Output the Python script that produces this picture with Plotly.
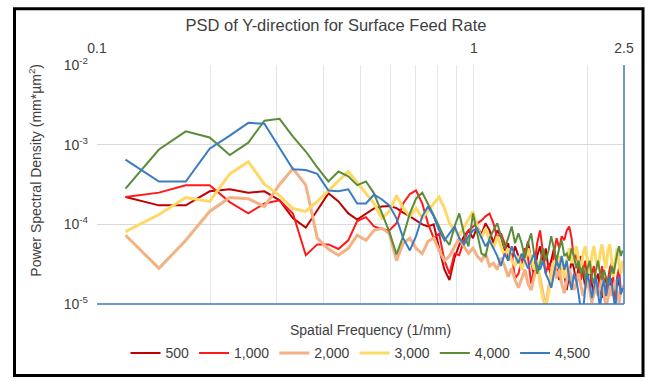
import plotly.graph_objects as go

# Spatial frequency (1/mm)
freq = [0.119, 0.146, 0.172, 0.199, 0.225, 0.252, 0.278, 0.305, 0.331, 0.358,
        0.384, 0.411, 0.437, 0.464, 0.490, 0.517, 0.543, 0.570, 0.596, 0.623,
        0.649, 0.676, 0.702, 0.729, 0.755, 0.782, 0.808, 0.835, 0.861, 0.888,
        0.914, 0.941, 0.967, 0.994, 1.020, 1.047, 1.073, 1.100, 1.126, 1.153,
        1.179, 1.206, 1.232, 1.259, 1.285, 1.312, 1.338, 1.365, 1.391, 1.418,
        1.444, 1.471, 1.497, 1.524, 1.550, 1.577, 1.603, 1.630, 1.656, 1.683,
        1.709, 1.736, 1.762, 1.789, 1.815, 1.842, 1.868, 1.895, 1.921, 1.948,
        1.974, 2.001, 2.027, 2.054, 2.080, 2.107, 2.133, 2.160, 2.186, 2.213,
        2.239, 2.266, 2.292, 2.319, 2.345, 2.372, 2.398, 2.425, 2.451, 2.478]

psd_500 = [2.2e-4, 1.73e-4, 1.73e-4, 2.6e-4, 2.75e-4, 2.5e-4, 2.6e-4, 2.0e-4, 1.19e-4, 9.1e-5,
           1.5e-4, 2.45e-4, 1.94e-4, 1.37e-4, 1.15e-4, 1.37e-4, 1.58e-4, 1.67e-4, 1.7e-4,
           1.6e-4, 1.4e-4, 1.26e-4, 1.12e-4, 1.0e-4, 9.4e-5, 1.0e-4, 5.0e-5, 2.7e-5, 2.0e-5,
           3.8e-5, 5.5e-5, 7.1e-5, 8.4e-5, 6.7e-5, 9.4e-5, 7.5e-5, 1.03e-4, 8.4e-5, 5.8e-5,
           8.4e-5, 7.1e-5, 4.7e-5, 5.8e-5, 3.5e-5, 5.3e-5, 4.0e-5, 2.8e-5, 4.3e-5, 6.1e-5,
           3.5e-5, 2.2e-5, 4.0e-5, 5.3e-5, 3.25e-5, 5.0e-5, 2.7e-5, 3.5e-5, 5.0e-5, 3.0e-5,
           2.0e-5, 3.25e-5, 2.4e-5, 1.5e-5, 2.2e-5, 3.5e-5, 2.8e-5, 1.8e-5, 3.0e-5, 4.0e-5,
           2.4e-5, 1.6e-5, 2.2e-5, 2.8e-5, 1.8e-5, 1.26e-5, 2.0e-5, 2.4e-5, 1.6e-5, 1.19e-5,
           1.8e-5, 2.2e-5, 1.37e-5, 1.6e-5, 2.1e-5, 1.5e-5, 1.12e-5, 1.7e-5, 2.0e-5, 1.33e-5,
           1.6e-5]

psd_1000 = [2.2e-4, 2.5e-4, 3.1e-4, 3.1e-4, 1.9e-4, 1.37e-4, 1.83e-4, 2.0e-4, 1.37e-4, 4.1e-5,
            5.6e-5, 5.6e-5, 4.9e-5, 6.3e-5, 1.1e-4, 1.23e-4, 9.4e-5, 8.7e-5, 8.4e-5,
            1.03e-4, 1.83e-4, 2.4e-4, 2.66e-4, 1.83e-4, 1.03e-4, 6.7e-5, 7.7e-5, 3.5e-5, 2.4e-5,
            4.3e-5, 4.1e-5, 6.3e-5, 8.4e-5, 9.4e-5, 1.03e-4, 1.12e-4, 1.26e-4, 1.37e-4, 1.03e-4,
            6.7e-5, 7.7e-5, 5.8e-5, 3.5e-5, 4.3e-5, 2.1e-5, 2.4e-5, 3.5e-5, 5.0e-5, 3.8e-5,
            1.8e-5, 2.8e-5, 5.8e-5, 8.4e-5, 4.3e-5, 2.4e-5, 3.25e-5, 2.1e-5, 4.3e-5, 6.7e-5,
            5.0e-5, 7.1e-5, 6.3e-5, 8.4e-5, 9.4e-5, 6.7e-5, 3.5e-5, 4.3e-5, 2.8e-5, 2.0e-5,
            2.7e-5, 3.5e-5, 1.8e-5, 1.5e-5, 2.4e-5, 3.0e-5, 1.6e-5, 1.33e-5, 2.1e-5, 3.0e-5,
            1.8e-5, 1.26e-5, 2.0e-5, 2.8e-5, 3.25e-5, 1.8e-5, 1.19e-5, 2.2e-5, 2.8e-5, 1.5e-5,
            1.7e-5]

psd_2000 = [7.3e-5, 2.8e-5, 6.3e-5, 1.45e-4, 2.17e-4, 2.1e-4, 1.67e-4, 3.16e-4, 5.0e-4, 3.1e-4,
            6.7e-5, 4.9e-5, 4.1e-5, 5.0e-5, 7.3e-5, 6.3e-5, 8.4e-5, 8.9e-5, 7.7e-5,
            3.5e-5, 5.8e-5, 6.7e-5, 5.0e-5, 4.3e-5, 6.1e-5, 6.7e-5, 4.7e-5, 3.5e-5, 4.0e-5,
            5.3e-5, 6.7e-5, 5.3e-5, 4.3e-5, 5.0e-5, 4.0e-5, 3.5e-5, 4.3e-5, 3.0e-5, 3.25e-5,
            2.7e-5, 3.8e-5, 3.0e-5, 2.2e-5, 2.8e-5, 2.0e-5, 1.6e-5, 2.1e-5, 2.7e-5, 1.8e-5,
            1.5e-5, 2.2e-5, 3.0e-5, 2.1e-5, 1.37e-5, 8.9e-6, 1.6e-5, 2.4e-5, 3.0e-5, 2.1e-5,
            2.7e-5, 1.8e-5, 1.37e-5, 2.0e-5, 2.8e-5, 2.1e-5, 1.5e-5, 1.8e-5, 2.4e-5, 1.7e-5,
            1.26e-5, 1.6e-5, 2.1e-5, 1.5e-5, 1.03e-5, 1.37e-5, 1.8e-5, 1.26e-5, 1.6e-5, 2.1e-5,
            1.37e-5, 8.9e-6, 1.19e-5, 1.7e-5, 1.26e-5, 1.6e-5, 2.0e-5, 1.37e-5, 1.03e-5, 1.5e-5,
            1.7e-5]

psd_3000 = [8.1e-5, 1.33e-4, 2.17e-4, 1.94e-4, 4.3e-4, 6.1e-4, 3.2e-4, 2.3e-4, 1.58e-4, 1.45e-4,
            1.94e-4, 2.66e-4, 3.55e-4, 4.6e-4, 3.35e-4, 2.45e-4, 1.83e-4, 1.19e-4, 1.45e-4,
            2.3e-4, 1.6e-4, 1.26e-4, 1.6e-4, 1.19e-4, 1.5e-4, 1.83e-4, 2.2e-4, 1.6e-4, 1.03e-4,
            8.4e-5, 7.3e-5, 9.4e-5, 1.19e-4, 1.45e-4, 9.4e-5, 6.7e-5, 8.9e-5, 6.3e-5, 5.0e-5,
            7.1e-5, 5.3e-5, 4.0e-5, 5.0e-5, 3.5e-5, 3.0e-5, 4.0e-5, 2.7e-5, 3.5e-5, 5.0e-5,
            3.5e-5, 2.7e-5, 3.5e-5, 1.8e-5, 1.19e-5, 8.9e-6, 1.37e-5, 2.4e-5, 3.5e-5, 2.8e-5,
            4.0e-5, 3.0e-5, 2.1e-5, 3.5e-5, 5.0e-5, 3.25e-5, 4.3e-5, 5.3e-5, 3.5e-5, 2.8e-5,
            4.3e-5, 5.3e-5, 3.5e-5, 2.4e-5, 4.0e-5, 5.3e-5, 3.5e-5, 2.7e-5, 4.3e-5, 5.6e-5,
            3.8e-5, 2.8e-5, 4.7e-5, 5.6e-5, 3.5e-5, 2.2e-5, 3.5e-5, 5.0e-5, 3.25e-5, 2.4e-5,
            3.5e-5]

psd_4000 = [2.8e-4, 8.7e-4, 1.47e-3, 1.23e-3, 7.4e-4, 1.06e-3, 2.0e-3, 2.11e-3, 1.26e-3, 8.2e-4,
            5.2e-4, 3.45e-4, 4.6e-4, 4.0e-4, 3.1e-4, 3.45e-4, 2.45e-4, 1.37e-4, 8.1e-5,
            4.2e-5, 7.1e-5, 1.37e-4, 2.1e-4, 2.5e-4, 1.83e-4, 1.3e-4, 9.4e-5, 6.7e-5, 5.5e-5,
            9.4e-5, 1.37e-4, 7.7e-5, 5.3e-5, 1.37e-4, 7.7e-5, 4.3e-5, 4.0e-5, 6.7e-5, 8.4e-5,
            1.03e-4, 7.1e-5, 5.0e-5, 6.7e-5, 9.4e-5, 5.8e-5, 7.7e-5, 5.8e-5, 3.8e-5, 5.8e-5,
            7.7e-5, 4.3e-5, 2.4e-5, 3.25e-5, 5.0e-5, 3.5e-5, 4.7e-5, 7.1e-5, 5.0e-5, 3.5e-5,
            5.0e-5, 6.3e-5, 4.0e-5, 4.3e-5, 3.5e-5, 5.0e-5, 4.0e-5, 2.8e-5, 3.5e-5, 2.4e-5,
            3.0e-5, 2.0e-5, 2.8e-5, 3.5e-5, 2.2e-5, 1.8e-5, 2.7e-5, 3.5e-5, 2.4e-5, 2.0e-5,
            2.7e-5, 2.2e-5, 1.7e-5, 2.1e-5, 3.0e-5, 2.4e-5, 3.5e-5, 4.3e-5, 5.3e-5, 4.0e-5,
            4.7e-5]

psd_4500 = [6.5e-4, 3.45e-4, 3.45e-4, 8.9e-4, 1.3e-3, 1.88e-3, 1.83e-3, 8.9e-4, 4.9e-4, 4.8e-4,
            4.3e-4, 2.66e-4, 2.6e-4, 2.75e-4, 1.83e-4, 1.83e-4, 2.37e-4, 2.05e-4, 1.73e-4,
            1.19e-4, 6.7e-5, 4.7e-5, 7.1e-5, 1.26e-4, 1.68e-4, 1.26e-4, 8.4e-5, 6.3e-5, 7.7e-5,
            9.4e-5, 6.7e-5, 5.6e-5, 7.1e-5, 8.4e-5, 8.9e-5, 6.7e-5, 5.3e-5, 6.3e-5, 5.0e-5,
            4.0e-5, 3.0e-5, 4.3e-5, 3.5e-5, 5.3e-5, 4.0e-5, 3.25e-5, 4.3e-5, 3.5e-5, 2.8e-5,
            3.5e-5, 4.3e-5, 3.0e-5, 2.7e-5, 3.5e-5, 2.4e-5, 2.0e-5, 1.6e-5, 2.4e-5, 3.5e-5,
            2.8e-5, 4.0e-5, 2.7e-5, 3.5e-5, 2.1e-5, 1.5e-5, 2.4e-5, 2.0e-5, 1.33e-5, 8.4e-6,
            8.4e-6, 1.6e-5, 2.4e-5, 1.8e-5, 1.19e-5, 1.6e-5, 2.2e-5, 1.37e-5, 8.9e-6, 1.6e-5,
            2.0e-5, 1.26e-5, 1.7e-5, 2.2e-5, 1.8e-5, 1.19e-5, 8.4e-6, 2.0e-5, 2.2e-5, 1.33e-5,
            1.6e-5]

series_names = ["500", "1,000", "2,000", "3,000", "4,000", "4,500"]
series_data = [psd_500, psd_1000, psd_2000, psd_3000, psd_4000, psd_4500]
series_colors = ["#C00000", "#FF1A1A", "#F4B183", "#FFD966", "#5B8C3A", "#3A7CC4"]
series_widths = [2, 2, 3, 3, 2, 2]

x_tickvals = [0.1, 0.2, 0.3, 0.4, 0.5, 0.6, 0.7, 0.8, 0.9, 1, 2, 2.5]
x_ticktext = ["0.1", "", "", "", "", "", "", "", "", "1", "", "2.5"]
y_tickvals = [1e-5, 1e-4, 1e-3, 1e-2]
y_ticktext = ["10<sup>-5</sup>", "10<sup>-4</sup>", "10<sup>-3</sup>", "10<sup>-2</sup>"]

FONT = "Liberation Sans, Arial, sans-serif"

fig = go.Figure()
for name, vals, col, w in zip(series_names, series_data, series_colors, series_widths):
    fig.add_trace(go.Scatter(x=freq, y=vals, mode="lines", name=name,
                             line=dict(color=col, width=w)))

W, H = 646, 381
L, R, T, B = 97, 22, 65, 74
pw, ph = W - L - R, H - T - B

def px(xp):
    return (xp - L) / pw

def py(yp):
    return (H - B - yp) / ph

fig.update_layout(
    width=W, height=H,
    margin=dict(l=L, r=R, t=T, b=B, pad=0),
    paper_bgcolor="white", plot_bgcolor="white",
    font=dict(family=FONT, size=13, color="#404040"),
    title=dict(text="PSD of Y-direction for Surface Feed Rate",
               x=336 / W, xanchor="center", xref="container",
               y=1 - 25 / H, yanchor="middle", yref="container",
               font=dict(size=16.5, color="#404040", family=FONT)),
    showlegend=True,
    legend=dict(orientation="h", x=0.5, xanchor="center", y=py(357), yanchor="middle",
                font=dict(size=14, color="#404040", family=FONT),
                bgcolor="rgba(0,0,0,0)", itemwidth=30, tracegroupgap=0),
    xaxis=dict(type="log", range=[-1, 0.39794], side="top",
               tickvals=x_tickvals, ticktext=x_ticktext, ticks="",
               ticklabelstandoff=8,
               showgrid=True, gridcolor="#E6E6E6", gridwidth=1,
               showline=False, zeroline=False,
               tickfont=dict(size=14, color="#404040", family=FONT)),
    yaxis=dict(type="log", range=[-5, -2],
               tickvals=y_tickvals, ticktext=y_ticktext, ticks="",
               ticklabelstandoff=8,
               showgrid=True, gridcolor="#D9D9D9", gridwidth=1,
               showline=False, zeroline=False,
               tickfont=dict(size=14, color="#404040", family=FONT)),
    hovermode=False,
)

# axis titles
fig.add_annotation(text="Power Spectral Density (mm*µm<sup>2</sup>)", textangle=-90,
                   xref="paper", yref="paper", x=px(35), y=py(172),
                   xanchor="center", yanchor="middle", showarrow=False,
                   font=dict(size=14, color="#404040", family=FONT))
fig.add_annotation(text="Spatial Frequency (1/mm)",
                   xref="paper", yref="paper", x=px(370), y=py(333),
                   xanchor="center", yanchor="middle", showarrow=False,
                   font=dict(size=14, color="#404040", family=FONT))

# blue axis lines (bottom and right)
fig.add_shape(type="line", xref="paper", yref="paper", x0=0, x1=1, y0=0, y1=0,
              line=dict(color="#4472C4", width=1.5))
fig.add_shape(type="line", xref="paper", yref="paper", x0=1, x1=1, y0=0, y1=1,
              line=dict(color="#4472C4", width=1.5))
# outer black frame
fig.add_shape(type="rect", xref="paper", yref="paper",
              x0=px(14.5), x1=px(643), y0=py(379.5), y1=py(8),
              line=dict(color="black", width=3), fillcolor="rgba(0,0,0,0)", layer="above")

fig.write_html("out.html")
